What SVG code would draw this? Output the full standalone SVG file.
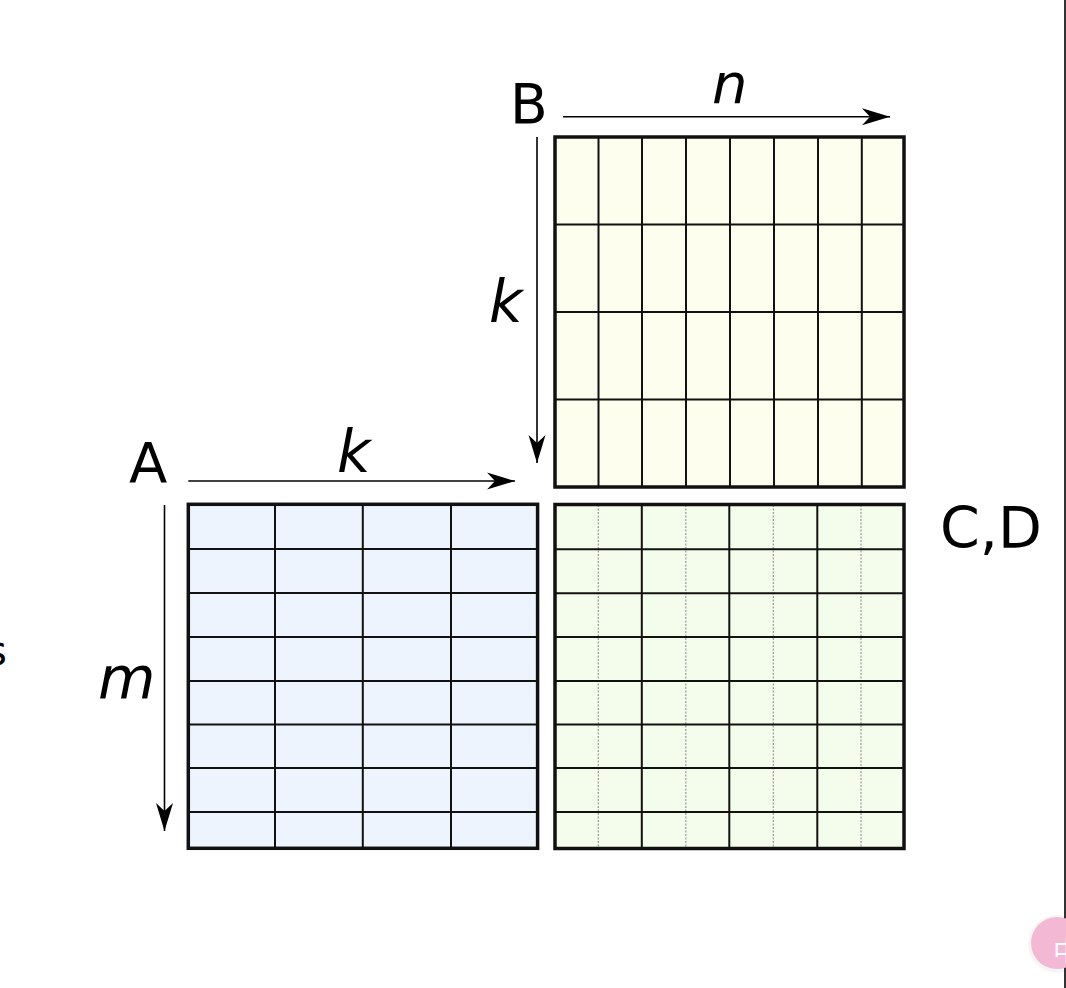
<svg xmlns="http://www.w3.org/2000/svg" width="1066" height="988" viewBox="0 0 1066 988">
<style>
.frame{fill:none;stroke:#111;stroke-width:3.5}
.grid{stroke:#111;stroke-width:2;fill:none}
.dot{stroke:#999;stroke-width:1.2;stroke-dasharray:2 1.5;fill:none}
.arr{stroke:#000;stroke-width:1.6;fill:none}
.lab{font-family:"DejaVu Sans",sans-serif;fill:#000}
.it{font-style:oblique}
</style>
<defs>
<marker id="ah" viewBox="-30 -9 32 18" markerWidth="32" markerHeight="18" refX="0" refY="0" orient="auto" markerUnits="userSpaceOnUse">
<path d="M0,0 L-28,-8.5 L-20,0 L-28,8.5 Z" fill="#000"/>
</marker>
</defs>
<rect width="1066" height="988" fill="#fff"/>
<text class="lab" x="-14" y="665" font-size="40">s</text>

<g id="matrixB">
<rect x="555" y="137" width="349" height="350" fill="#fefeee"/>
<path class="grid" d="M598.5,137V487M642,137V487M686,137V487M730,137V487M774,137V487M818,137V487M861.8,137V487M555,224.4H904M555,312H904M555,399.6H904"/>
<rect class="frame" x="555" y="137" width="349" height="350"/>
</g>

<g id="matrixA">
<rect x="188.3" y="504.3" width="349.3" height="344" fill="#edf4fe"/>
<path class="grid" d="M275,504V848M362.8,504V848M451,504V848M188,549H538M188,593H538M188,637H538M188,681H538M188,724.5H538M188,768H538M188,812H538"/>
<rect class="frame" x="188.3" y="504.3" width="349.3" height="344"/>
</g>

<g id="matrixCD">
<rect x="555" y="504.5" width="349" height="344" fill="#f4fdec"/>
<path class="dot" d="M598.3,505V848M685.8,505V848M773.3,505V848M861,505V848"/>
<path class="grid" d="M641.8,504V848M729.3,504V848M817.3,504V848M555,549.3H904M555,593.3H904M555,637H904M555,681H904M555,724.5H904M555,768H904M555,812H904"/>
<rect class="frame" x="555" y="504.5" width="349" height="344"/>
</g>

<g id="connectors">
<line class="arr" x1="563" y1="116.8" x2="890" y2="116.8" marker-end="url(#ah)"/>
<line class="arr" x1="537" y1="137" x2="537" y2="463" marker-end="url(#ah)"/>
<line class="arr" x1="188.3" y1="481" x2="515" y2="481" marker-end="url(#ah)"/>
<line class="arr" x1="164.5" y1="505" x2="164.5" y2="831" marker-end="url(#ah)"/>
</g>

<g id="labels">
<text class="lab" x="510" y="123" font-size="55">B</text>
<text class="lab it" x="712" y="103" font-size="56">n</text>
<text class="lab it" x="489" y="322" font-size="58">k</text>
<text class="lab" x="129" y="482" font-size="56">A</text>
<text class="lab it" x="337" y="472" font-size="58">k</text>
<text class="lab it" x="98" y="698" font-size="59">m</text>
<text class="lab" x="940" y="548" font-size="57">C,D</text>
</g>

<line x1="1065" y1="0" x2="1065" y2="988" stroke="#333" stroke-width="2"/>
<circle cx="1057" cy="944" r="29" fill="#000" opacity="0.04"/>
<circle cx="1057" cy="943" r="26" fill="#f2b8d4"/>
<text x="1053" y="962" font-size="28" fill="#fff" font-family="'Noto Sans CJK SC',sans-serif">中</text>
</svg>
